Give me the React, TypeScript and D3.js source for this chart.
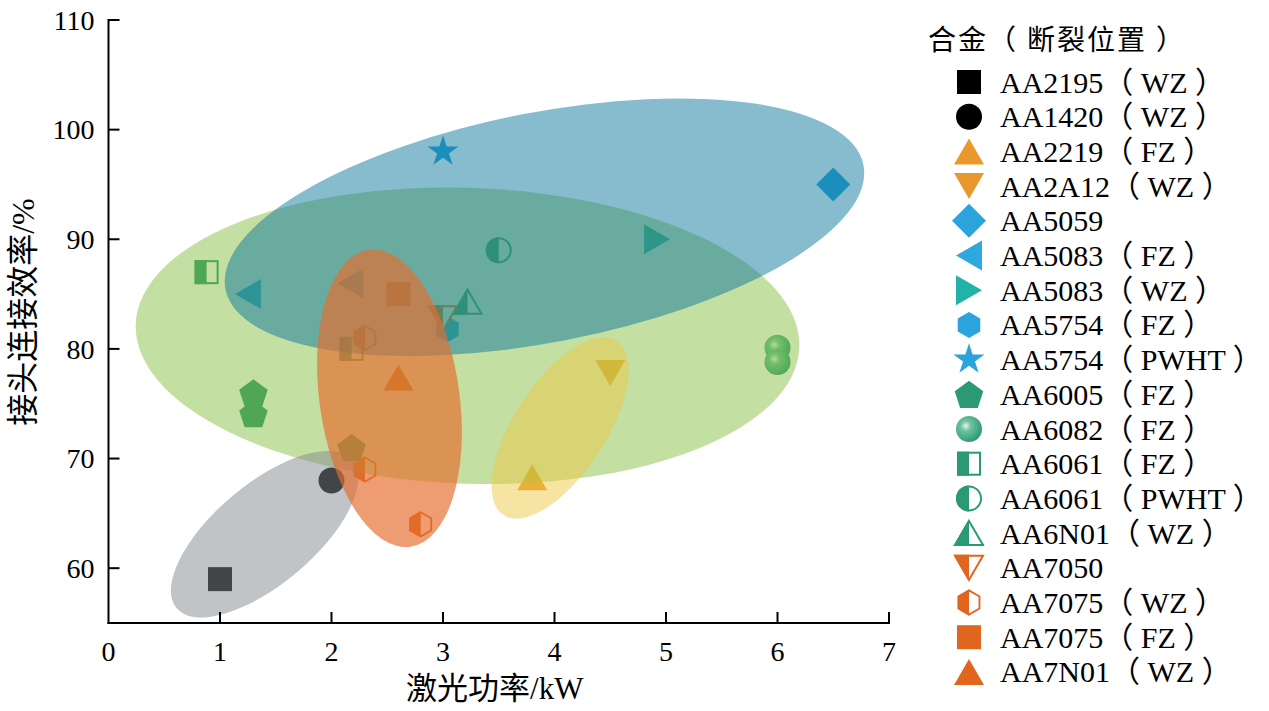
import React from 'react';
import * as d3 from 'd3';

// alloys (legend order)
const alloys = [
  'AA2195（ WZ ）', 'AA1420（ WZ ）', 'AA2219（ FZ ）', 'AA2A12（ WZ ）', 'AA5059',
  'AA5083（ FZ ）', 'AA5083（ WZ ）', 'AA5754（ FZ ）', 'AA5754（ PWHT ）', 'AA6005（ FZ ）',
  'AA6082（ FZ ）', 'AA6061（ FZ ）', 'AA6061（ PWHT ）', 'AA6N01（ WZ ）', 'AA7050',
  'AA7075（ WZ ）', 'AA7075（ FZ ）', 'AA7N01（ WZ ）',
];
const shapes = [
  'square', 'circle', 'triUp', 'triDown', 'diamond',
  'triLeft', 'triRight', 'hexagon', 'star', 'pentagon',
  'sphere', 'halfSquare', 'halfCircle', 'halfTriUp', 'halfTriDown',
  'halfHexagon', 'square', 'triUp',
];
const colors = [
  '#000000', '#000000', '#E8982C', '#E8982C', '#2BA3DD',
  '#2FA7DF', '#22B2A6', '#2BA3DD', '#2BA3DD', '#2A9A74',
  '#2A9A74', '#2A9A74', '#2A9A74', '#2A9A74', '#E0651E',
  '#E0651E', '#E0651E', '#E0651E',
];

// measured points: alloy index, laser power (kW), joint efficiency (%)
const pointAlloy = [0, 1, 2, 3, 4, 5, 5, 6, 7, 8, 9, 9, 9, 10, 10, 11, 11, 12, 13, 14, 15, 15, 15, 16, 17];
const pointPower = [1.0, 2.0, 3.8, 4.5, 6.5, 1.25, 2.17, 4.92, 3.04, 3.0, 1.3, 1.3, 2.18, 6.0, 6.0, 0.88, 2.18, 3.5, 3.22, 3.0, 2.3, 2.3, 2.8, 2.6, 2.6];
const pointEff = [59, 68, 68.3, 77.8, 95, 85, 86, 90, 81.8, 98, 76, 74.1, 71, 80.1, 78.8, 87, 80, 89, 84.3, 82.8, 81, 69, 64, 85, 77.4];

// grouping ellipses: centre (kW, %)
const groupNames = ['green', 'blue', 'gray', 'yellow', 'orange'];
const groupCx = [3.22, 3.91, 1.4, 4.05, 2.52];
const groupCy = [81.2, 91.1, 63.1, 72.8, 75.5];

const xTicks = [0, 1, 2, 3, 4, 5, 6, 7];
const yTicks = [60, 70, 80, 90, 100, 110];

// ellipse geometry (px) and styling
const groupStyle: Record<string, { rx: number; ry: number; rot: number; fill: string; op: number }> = {
  green: { rx: 332, ry: 148, rot: 2, fill: '#7cb831', op: 0.45 },
  blue: { rx: 325, ry: 115, rot: -11, fill: '#0d799b', op: 0.5 },
  gray: { rx: 115, ry: 50, rot: -40, fill: '#81898f', op: 0.5 },
  yellow: { rx: 46, ry: 104, rot: 33, fill: '#ebc945', op: 0.5 },
  orange: { rx: 70, ry: 150, rot: -8, fill: '#e66d2e', op: 0.67 },
};

const serif = "'Liberation Serif', 'Times New Roman', 'Noto Sans CJK SC', serif";

function Marker({ shape, color, id }: { shape: string; color: string; id: string }) {
  const sw = 2;
  const r = 12;
  const tri = (dir: string) => {
    const h = 13, w = 15;
    if (dir === 'up') return `M0,${-h}L${w},${h}L${-w},${h}Z`;
    if (dir === 'down') return `M${-w},${-h}L${w},${-h}L0,${h}Z`;
    if (dir === 'left') return `M${-h},0L${h},${-w}L${h},${w}Z`;
    return `M${h},0L${-h},${-w}L${-h},${w}Z`;
  };
  const hex = d3.range(6).map(i => {
    const a = (-90 + i * 60) * Math.PI / 180;
    return [13 * Math.cos(a), 13 * Math.sin(a)];
  });
  const hexPath = 'M' + hex.map(p => p.join(',')).join('L') + 'Z';
  switch (shape) {
    case 'square':
      return <rect x={-r} y={-r} width={2 * r} height={2 * r} fill={color} />;
    case 'circle':
      return <circle r={13} fill={color} />;
    case 'triUp':
      return <path d={tri('up')} fill={color} />;
    case 'triDown':
      return <path d={tri('down')} fill={color} />;
    case 'triLeft':
      return <path d={tri('left')} fill={color} />;
    case 'triRight':
      return <path d={tri('right')} fill={color} />;
    case 'diamond':
      return <path d="M0,-17L17,0L0,17L-17,0Z" fill={color} />;
    case 'hexagon':
      return <path d={hexPath} fill={color} />;
    case 'star':
      return <path d={d3.symbol(d3.symbolStar, 300)() || ''} fill={color} />;
    case 'pentagon': {
      const pts = d3.range(5).map(i => {
        const a = (-90 + i * 72) * Math.PI / 180;
        return [15 * Math.cos(a), 15 * Math.sin(a) + 1.5];
      });
      return <path d={'M' + pts.map(p => p.join(',')).join('L') + 'Z'} fill={color} />;
    }
    case 'sphere':
      return (
        <g>
          <defs>
            <radialGradient id={id} cx="0.38" cy="0.38" r="0.65">
              <stop offset="0" stopColor="#e8f6f0" />
              <stop offset="0.3" stopColor="#6fc3a0" />
              <stop offset="1" stopColor={color} />
            </radialGradient>
          </defs>
          <circle r={13} fill={`url(#${id})`} />
        </g>
      );
    case 'halfSquare':
      return (
        <g>
          <rect x={-11} y={-11} width={22} height={22} fill="#fff" stroke={color} strokeWidth={sw} />
          <rect x={-12} y={-12} width={12} height={24} fill={color} />
        </g>
      );
    case 'halfCircle':
      return (
        <g>
          <circle r={12} fill="#fff" stroke={color} strokeWidth={sw} />
          <path d="M0,-13A13,13 0 0,0 0,13Z" fill={color} />
        </g>
      );
    case 'halfTriUp':
      return (
        <g>
          <path d="M0,-12L14,12L-14,12Z" fill="#fff" stroke={color} strokeWidth={sw} strokeLinejoin="miter" />
          <path d="M0,-14L-15.5,13L0,13Z" fill={color} />
        </g>
      );
    case 'halfTriDown':
      return (
        <g>
          <path d="M-14,-12L14,-12L0,12Z" fill="#fff" stroke={color} strokeWidth={sw} />
          <path d="M-15.5,-13L0,-13L0,14Z" fill={color} />
        </g>
      );
    case 'halfHexagon': {
      const c = 13 * Math.cos(Math.PI / 6);
      return (
        <g>
          <path d={hexPath} fill="#fff" stroke={color} strokeWidth={sw} transform="scale(0.93)" />
          <path d={`M0,-13L${-c},-6.5L${-c},6.5L0,13Z`} fill={color} />
        </g>
      );
    }
    default:
      return null;
  }
}

export default function App() {
  const width = 1269;
  const height = 711;
  const x = d3.scaleLinear().domain([0, 7]).range([108.5, 889]);
  const y = d3.scaleLinear().domain([55, 110]).range([623, 20]);
  const tickLen = 11;

  const legendX = 969;
  const legendY0 = 82;
  const legendStep = 34.7;

  return (
    <svg width={width} height={height} style={{ position: 'absolute', left: 0, top: 0, background: '#fff' }}
      fontFamily={serif}>
      {/* points, drawn under the translucent groups */}
      {pointAlloy.map((a, i) => (
        <g key={i} transform={`translate(${x(pointPower[i])},${y(pointEff[i])})`}>
          <Marker shape={shapes[a]} color={colors[a]} id={`sp-${i}`} />
        </g>
      ))}

      {/* grouping ellipses */}
      {groupNames.map((g, i) => {
        const s = groupStyle[g];
        return (
          <ellipse key={g} cx={0} cy={0} rx={s.rx} ry={s.ry} fill={s.fill} fillOpacity={s.op}
            transform={`translate(${x(groupCx[i])},${y(groupCy[i])}) rotate(${s.rot})`} />
        );
      })}

      {/* axes */}
      <g stroke="#000" strokeWidth={2}>
        <line x1={x(0)} x2={x(0)} y1={y(110) - 1} y2={y(55) + 1} />
        <line x1={x(0) - 1} x2={x(7) + 1} y1={y(55)} y2={y(55)} />
        {yTicks.map(t => (
          <line key={t} x1={x(0)} x2={x(0) + tickLen} y1={y(t)} y2={y(t)} />
        ))}
        {xTicks.slice(1).map(t => (
          <line key={t} x1={x(t)} x2={x(t)} y1={y(55)} y2={y(55) - tickLen} />
        ))}
      </g>
      <g fontSize={28} fill="#000">
        {yTicks.map(t => (
          <text key={t} x={x(0) - 14} y={y(t)} dy="0.35em" textAnchor="end">{t}</text>
        ))}
        {xTicks.map(t => (
          <text key={t} x={x(t)} y={y(55) + 38} textAnchor="middle">{t}</text>
        ))}
      </g>
      <text x={(x(0) + x(7)) / 2 - 4} y={699} textAnchor="middle" fontSize={31}>激光功率/kW</text>
      <text transform={`translate(34,312) rotate(-90)`} textAnchor="middle" fontSize={32}>接头连接效率/%</text>

      {/* legend */}
      <text x={928} y={50} fontSize={28} letterSpacing={2}>合金（ 断裂位置 ）</text>
      {alloys.map((name, i) => (
        <g key={name + i} transform={`translate(0,${legendY0 + i * legendStep})`}>
          <g transform={`translate(${legendX},0)`}>
            <Marker shape={shapes[i]} color={colors[i]} id={`lg-${i}`} />
          </g>
          <text x={1000} y={0} dy="0.35em" fontSize={30}>{name}</text>
        </g>
      ))}
    </svg>
  );
}
